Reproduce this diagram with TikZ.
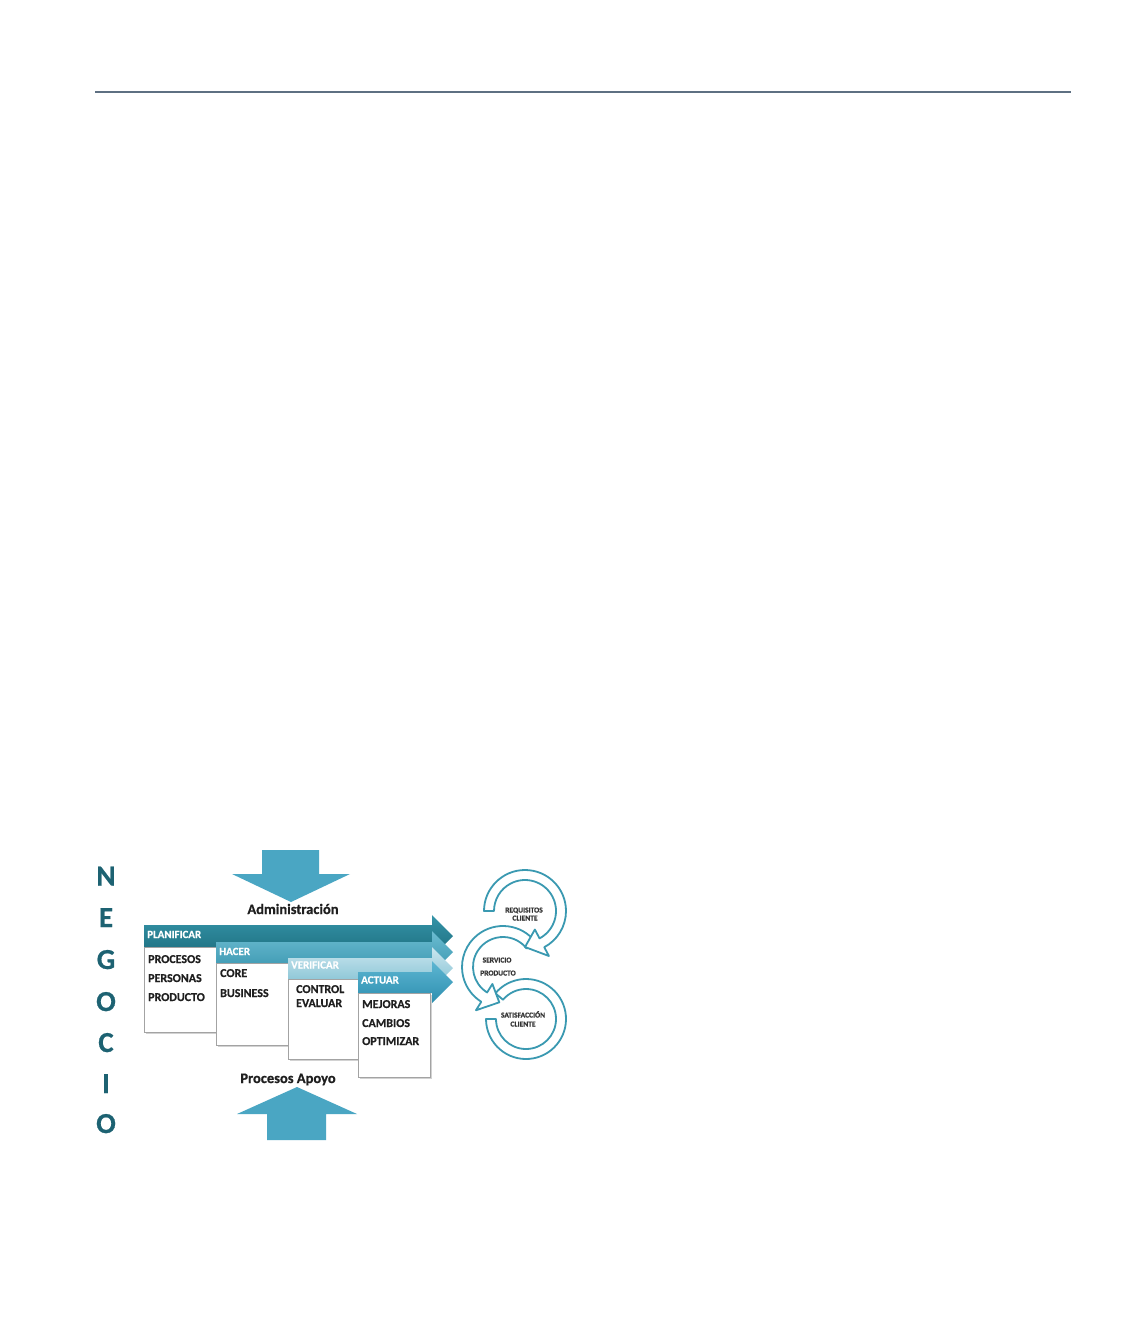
\documentclass[tikz,border=0pt]{standalone}
\usepackage{fontspec}
\setmainfont[BoldFeatures={FakeBold=0.6}]{Carlito}
\usetikzlibrary{shadows}
\definecolor{negocio}{HTML}{1D6272}
\definecolor{bigarrow}{HTML}{4AA6C3}
\definecolor{ringc}{HTML}{3A99B1}
\definecolor{rulec}{HTML}{5E7082}
\definecolor{boxline}{HTML}{A3A3A3}
\definecolor{bandAtop}{HTML}{3595A9}
\definecolor{bandAbot}{HTML}{1C6C7D}
\definecolor{bandBtop}{HTML}{6CBCD1}
\definecolor{bandBbot}{HTML}{3895AF}
\definecolor{bandCtop}{HTML}{CBE7EF}
\definecolor{bandCbot}{HTML}{7EBED1}
\definecolor{bandDtop}{HTML}{5DB6D2}
\definecolor{bandDbot}{HTML}{2E8FB0}
\tikzset{
  bodytxt/.style={anchor=base west, inner sep=0pt, font=\fontsize{12}{14}\selectfont\bfseries, text=black!88},
  headtxt/.style={anchor=base west, inner sep=0pt, font=\fontsize{11}{13}\selectfont\bfseries, text=white},
  titletxt/.style={anchor=base, inner sep=0pt, font=\fontsize{14.5}{17}\selectfont\bfseries, text=black!88},
  lettertxt/.style={anchor=base, inner sep=0pt, font=\fontsize{29}{32}\selectfont\bfseries, text=negocio},
  ringtxt/.style={anchor=base, inner sep=0pt, font=\fontsize{7.5}{9}\selectfont\bfseries, text=black!80},
  whitebox/.style={draw=boxline, line width=0.8pt, fill=white, inner sep=0pt,
     drop shadow={opacity=0.35, shadow xshift=1.5pt, shadow yshift=-2pt}},
  ring/.style={draw=ringc, line width=1.8pt, fill=white, line join=round},
  bigarr/.style={fill=bigarrow}
}
\begin{document}
\begin{tikzpicture}[x=1pt,y=1pt]
\useasboundingbox (0,0) rectangle (1139,-1337);
\fill[white] (0,0) rectangle (1139,-1337);

% header rule
\draw[rulec, line width=1.5pt] (95,-92) -- (1071,-92);

% NEGOCIO letters
\node[lettertxt] (lN) at (106,-885.5) {N};
\node[lettertxt] (lE) at (106,-927) {E};
\node[lettertxt] (lG) at (106,-969) {G};
\node[lettertxt] (lO1) at (106,-1011) {O};
\node[lettertxt] (lC) at (106,-1052) {C};
\node[lettertxt] (lI) at (106,-1093) {I};
\node[lettertxt] (lO2) at (106,-1133) {O};

% big arrows
\path[bigarr] (262,-850) -- (319,-850) -- (319,-874) -- (350,-874) -- (291,-902) -- (232,-874) -- (262,-874) -- cycle;
\path[bigarr] (267,-1140) -- (326,-1140) -- (326,-1114) -- (357,-1114) -- (297,-1087) -- (237,-1114) -- (267,-1114) -- cycle;

\node[titletxt] (adm) at (293,-914) {Administración};
\node[titletxt] (apoyo) at (288,-1083) {Procesos Apoyo};

% band 1 + box 1
\path[top color=bandAtop, bottom color=bandAbot] (144,-925) -- (432,-925) -- (432,-915) -- (453,-936) -- (432,-957) -- (432,-947) -- (144,-947) -- cycle;
\node[whitebox, minimum width=88pt, minimum height=85pt] (box1) at (188,-989.5) {};
\node[headtxt] (hPlan) at (147,-938) {PLANIFICAR};
\node[bodytxt] (t11) at (148,-963) {PROCESOS};
\node[bodytxt] (t12) at (148,-982) {PERSONAS};
\node[bodytxt] (t13) at (148,-1001) {PRODUCTO};

% band 2 + box 2
\path[top color=bandBtop, bottom color=bandBbot] (216,-942) -- (432,-942) -- (432,-931) -- (453,-952) -- (432,-973) -- (432,-963) -- (216,-963) -- cycle;
\node[whitebox, minimum width=84pt, minimum height=82pt] (box2) at (258,-1004) {};
\node[headtxt] (hHacer) at (219,-955) {HACER};
\node[bodytxt] (t21) at (220,-977) {CORE};
\node[bodytxt] (t22) at (220,-997) {BUSINESS};

% band 3 + box 3
\path[top color=bandCtop, bottom color=bandCbot] (288,-958) -- (432,-958) -- (432,-947) -- (453,-968) -- (432,-989) -- (432,-979) -- (288,-979) -- cycle;
\node[whitebox, minimum width=82pt, minimum height=80pt] (box3) at (329,-1019) {};
\node[headtxt] (hVer) at (291,-968.5) {VERIFICAR};
\node[bodytxt] (t31) at (296,-993) {CONTROL};
\node[bodytxt] (t32) at (296,-1007) {EVALUAR};

% band 4 + box 4
\path[top color=bandDtop, bottom color=bandDbot] (358,-972) -- (432,-972) -- (432,-961) -- (453,-982) -- (432,-1003) -- (432,-993) -- (358,-993) -- cycle;
\node[whitebox, minimum width=72pt, minimum height=84pt] (box4) at (394,-1035) {};
\node[headtxt] (hAct) at (361,-983.5) {ACTUAR};
\node[bodytxt] (t41) at (362,-1008) {MEJORAS};
\node[bodytxt] (t42) at (362,-1027) {CAMBIOS};
\node[bodytxt] (t43) at (362,-1045) {OPTIMIZAR};

% circular arrows: bottom, middle, top
\begin{scope}[shift={(526,-1019)}]
\path[ring] (140:40) arc[start angle=140, end angle=-180, radius=40] -- (-180:30) arc[start angle=-180, end angle=140, radius=30] -- cycle;
\end{scope}
\begin{scope}[shift={(503,-967)}]
\path[ring] (38:41) arc[start angle=38, end angle=238, radius=41] -- (238:51) -- (264:35.5) -- (238:20) -- (238:30) arc[start angle=238, end angle=38, radius=30] -- cycle;
\end{scope}
\begin{scope}[shift={(525,-911)}]
\path[ring] (180:41) arc[start angle=180, end angle=-62, radius=41] -- (-62:51) -- (-90:36) -- (-62:21) -- (-62:31) arc[start angle=-62, end angle=180, radius=31] -- cycle;
\end{scope}

\node[ringtxt] (r1a) at (524,-912.5) {REQUISITOS};
\node[ringtxt] (r1b) at (525,-920.5) {CLIENTE};
\node[ringtxt] (r2a) at (497,-962.5) {SERVICIO};
\node[ringtxt] (r2b) at (498,-975.5) {PRODUCTO};
\node[ringtxt] (r3a) at (523,-1017.5) {SATISFACCIÓN};
\node[ringtxt] (r3b) at (523,-1026.5) {CLIENTE};
\end{tikzpicture}
\end{document}
